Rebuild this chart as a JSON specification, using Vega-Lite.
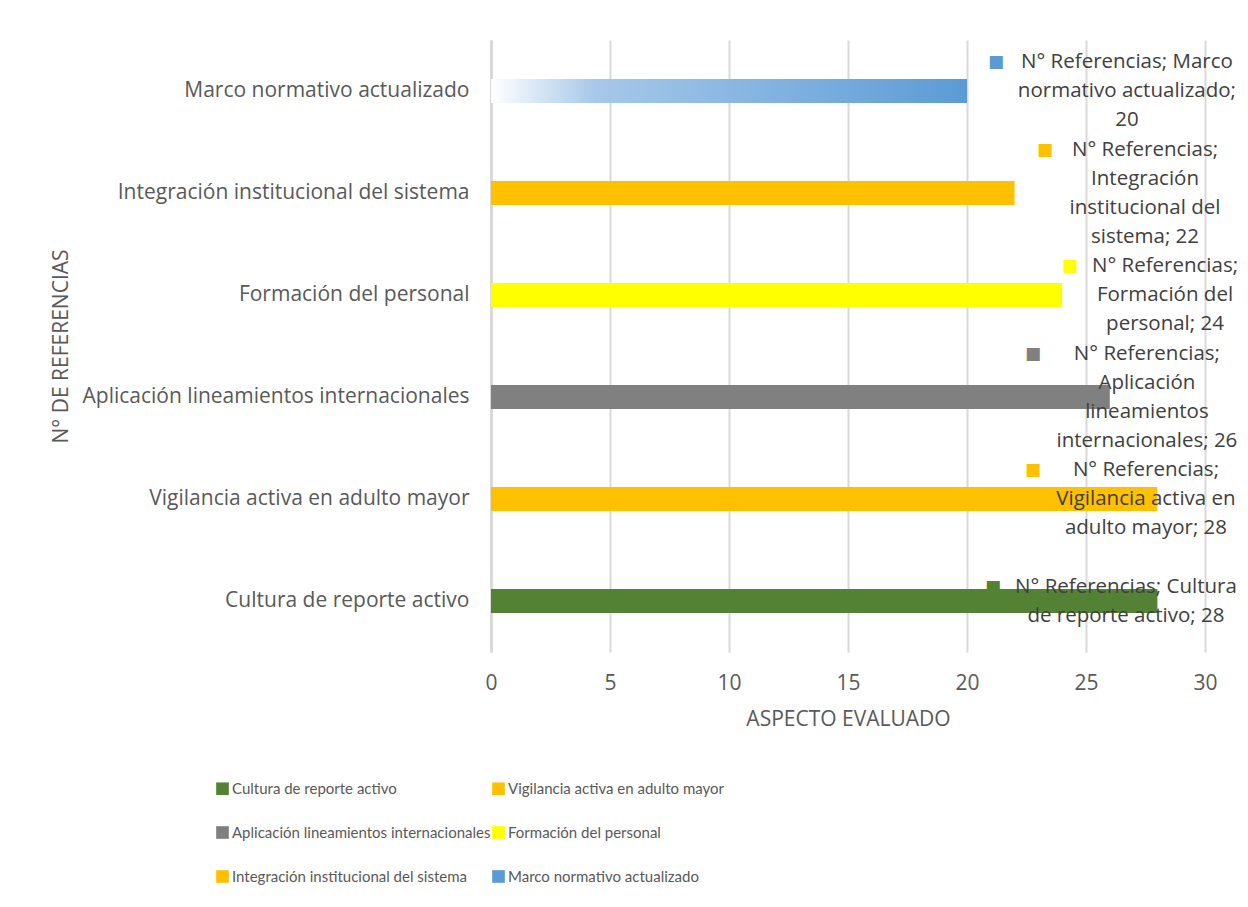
{
  "$schema": "https://vega.github.io/schema/vega-lite/v6.json",
  "width": 714,
  "height": 612,
  "padding": {"left": 49, "top": 40, "right": 5, "bottom": 5},
  "background": "white",
  "data": {
    "values": [
      {"aspecto": "Marco normativo actualizado", "referencias": 20, "label": "N° Referencias; Marco\nnormativo actualizado;\n20"},
      {"aspecto": "Integración institucional del sistema", "referencias": 22, "label": "N° Referencias;\nIntegración\ninstitucional del\nsistema; 22"},
      {"aspecto": "Formación del personal", "referencias": 24, "label": "N° Referencias;\nFormación del\npersonal; 24"},
      {"aspecto": "Aplicación lineamientos internacionales", "referencias": 26, "label": "N° Referencias;\nAplicación\nlineamientos\ninternacionales; 26"},
      {"aspecto": "Vigilancia activa en adulto mayor", "referencias": 28, "label": "N° Referencias;\nVigilancia activa en\nadulto mayor; 28"},
      {"aspecto": "Cultura de reporte activo", "referencias": 28, "label": "N° Referencias; Cultura\nde reporte activo; 28"}
    ]
  },
  "encoding": {
    "y": {
      "field": "aspecto",
      "type": "nominal",
      "sort": ["Marco normativo actualizado", "Integración institucional del sistema", "Formación del personal", "Aplicación lineamientos internacionales", "Vigilancia activa en adulto mayor", "Cultura de reporte activo"],
      "scale": {"paddingInner": 0.765, "paddingOuter": 0.3825},
      "axis": {
        "title": "N° DE REFERENCIAS",
        "titleFont": "Open Sans",
        "titleFontSize": 21,
        "titleFontWeight": "normal",
        "titleColor": "#595959",
        "titleX": -420,
        "labelFont": "Open Sans",
        "labelFontSize": 21,
        "labelColor": "#595959",
        "labelPadding": 22,
        "labelLimit": 600,
        "ticks": false,
        "domain": true,
        "domainColor": "#d9d9d9",
        "domainWidth": 3,
        "grid": false
      }
    }
  },
  "layer": [
    {
      "mark": {"type": "bar"},
      "encoding": {
        "x": {
          "field": "referencias",
          "type": "quantitative",
          "scale": {"domain": [0, 30]},
          "axis": {
            "title": "ASPECTO EVALUADO",
            "titleFont": "Open Sans",
            "titleFontSize": 21,
            "titleFontWeight": "normal",
            "titleColor": "#595959",
            "titlePadding": 15,
            "values": [0, 5, 10, 15, 20, 25, 30],
            "labelFont": "Open Sans",
            "labelFontSize": 21,
            "labelColor": "#595959",
            "labelPadding": 20,
            "labelFlush": false,
            "ticks": false,
            "domain": false,
            "grid": true,
            "gridColor": "#d9d9d9",
            "gridWidth": 2
          }
        },
        "color": {
          "field": "aspecto",
          "type": "nominal",
          "scale": {
            "domain": ["Cultura de reporte activo", "Vigilancia activa en adulto mayor", "Aplicación lineamientos internacionales", "Formación del personal", "Integración institucional del sistema", "Marco normativo actualizado"],
            "range": ["#548235", "#FFC000", "#808080", "#FFFF00", "#FFC000", "#5B9BD5"]
          },
          "legend": {
            "title": null,
            "orient": "none",
            "legendX": -276,
            "legendY": 741,
            "columns": 2,
            "direction": "horizontal",
            "symbolType": "square",
            "symbolSize": 160,
            "symbolStrokeWidth": 0,
            "labelFont": "Lato",
            "labelFontSize": 15,
            "labelColor": "#595959",
            "labelLimit": 600,
            "labelOffset": 2,
            "columnPadding": 0,
            "rowPadding": 28
          }
        }
      }
    },
    {
      "transform": [{"filter": "datum.aspecto === 'Marco normativo actualizado'"}],
      "mark": {
        "type": "bar",
        "color": {
          "gradient": "linear",
          "x1": 0, "y1": 0, "x2": 1, "y2": 0,
          "stops": [
            {"offset": 0, "color": "#ffffff"},
            {"offset": 0.22, "color": "#a6c8e9"},
            {"offset": 1, "color": "#5B9BD5"}
          ]
        }
      },
      "encoding": {
        "x": {"field": "referencias", "type": "quantitative"}
      }
    },
    {
      "transform": [{"filter": "datum.aspecto === 'Marco normativo actualizado'"}],
      "mark": {"type": "text", "align": "center", "baseline": "middle", "lineBreak": "\n", "lineHeight": 29, "font": "Open Sans", "fontSize": 20.5, "color": "#404040", "dy": -29},
      "encoding": {"x": {"datum": 26.72, "type": "quantitative"}, "text": {"field": "label"}}
    },
    {
      "transform": [{"filter": "datum.aspecto === 'Integración institucional del sistema'"}],
      "mark": {"type": "text", "align": "center", "baseline": "middle", "lineBreak": "\n", "lineHeight": 29, "font": "Open Sans", "fontSize": 20.5, "color": "#404040", "dy": -43.5},
      "encoding": {"x": {"datum": 27.48, "type": "quantitative"}, "text": {"field": "label"}}
    },
    {
      "transform": [{"filter": "datum.aspecto === 'Formación del personal'"}],
      "mark": {"type": "text", "align": "center", "baseline": "middle", "lineBreak": "\n", "lineHeight": 29, "font": "Open Sans", "fontSize": 20.5, "color": "#404040", "dy": -29},
      "encoding": {"x": {"datum": 28.32, "type": "quantitative"}, "text": {"field": "label"}}
    },
    {
      "transform": [{"filter": "datum.aspecto === 'Aplicación lineamientos internacionales'"}],
      "mark": {"type": "text", "align": "center", "baseline": "middle", "lineBreak": "\n", "lineHeight": 29, "font": "Open Sans", "fontSize": 20.5, "color": "#404040", "dy": -43.5},
      "encoding": {"x": {"datum": 27.56, "type": "quantitative"}, "text": {"field": "label"}}
    },
    {
      "transform": [{"filter": "datum.aspecto === 'Vigilancia activa en adulto mayor'"}],
      "mark": {"type": "text", "align": "center", "baseline": "middle", "lineBreak": "\n", "lineHeight": 29, "font": "Open Sans", "fontSize": 20.5, "color": "#404040", "dy": -29},
      "encoding": {"x": {"datum": 27.52, "type": "quantitative"}, "text": {"field": "label"}}
    },
    {
      "transform": [{"filter": "datum.aspecto === 'Cultura de reporte activo'"}],
      "mark": {"type": "text", "align": "center", "baseline": "middle", "lineBreak": "\n", "lineHeight": 29, "font": "Open Sans", "fontSize": 20.5, "color": "#404040", "dy": -14.5},
      "encoding": {"x": {"datum": 26.68, "type": "quantitative"}, "text": {"field": "label"}}
    },
    {
      "transform": [{"filter": "datum.aspecto === 'Marco normativo actualizado'"}],
      "mark": {"type": "text", "text": "■", "align": "center", "baseline": "middle", "font": "DejaVu Sans", "fontSize": 17, "dx": -131, "dy": -29},
      "encoding": {"x": {"datum": 26.72, "type": "quantitative"}, "color": {"field": "aspecto", "type": "nominal", "legend": null}}
    },
    {
      "transform": [{"filter": "datum.aspecto === 'Integración institucional del sistema'"}],
      "mark": {"type": "text", "text": "■", "align": "center", "baseline": "middle", "font": "DejaVu Sans", "fontSize": 17, "dx": -100, "dy": -43.5},
      "encoding": {"x": {"datum": 27.48, "type": "quantitative"}, "color": {"field": "aspecto", "type": "nominal", "legend": null}}
    },
    {
      "transform": [{"filter": "datum.aspecto === 'Formación del personal'"}],
      "mark": {"type": "text", "text": "■", "align": "center", "baseline": "middle", "font": "DejaVu Sans", "fontSize": 17, "dx": -95, "dy": -29},
      "encoding": {"x": {"datum": 28.32, "type": "quantitative"}, "color": {"field": "aspecto", "type": "nominal", "legend": null}}
    },
    {
      "transform": [{"filter": "datum.aspecto === 'Aplicación lineamientos internacionales'"}],
      "mark": {"type": "text", "text": "■", "align": "center", "baseline": "middle", "font": "DejaVu Sans", "fontSize": 17, "dx": -114, "dy": -43.5},
      "encoding": {"x": {"datum": 27.56, "type": "quantitative"}, "color": {"field": "aspecto", "type": "nominal", "legend": null}}
    },
    {
      "transform": [{"filter": "datum.aspecto === 'Vigilancia activa en adulto mayor'"}],
      "mark": {"type": "text", "text": "■", "align": "center", "baseline": "middle", "font": "DejaVu Sans", "fontSize": 17, "dx": -113, "dy": -29},
      "encoding": {"x": {"datum": 27.52, "type": "quantitative"}, "color": {"field": "aspecto", "type": "nominal", "legend": null}}
    },
    {
      "transform": [{"filter": "datum.aspecto === 'Cultura de reporte activo'"}],
      "mark": {"type": "text", "text": "■", "align": "center", "baseline": "middle", "font": "DejaVu Sans", "fontSize": 17, "dx": -133, "dy": -14.5},
      "encoding": {"x": {"datum": 26.68, "type": "quantitative"}, "color": {"field": "aspecto", "type": "nominal", "legend": null}}
    }
  ],
  "config": {"view": {"stroke": null}}
}
